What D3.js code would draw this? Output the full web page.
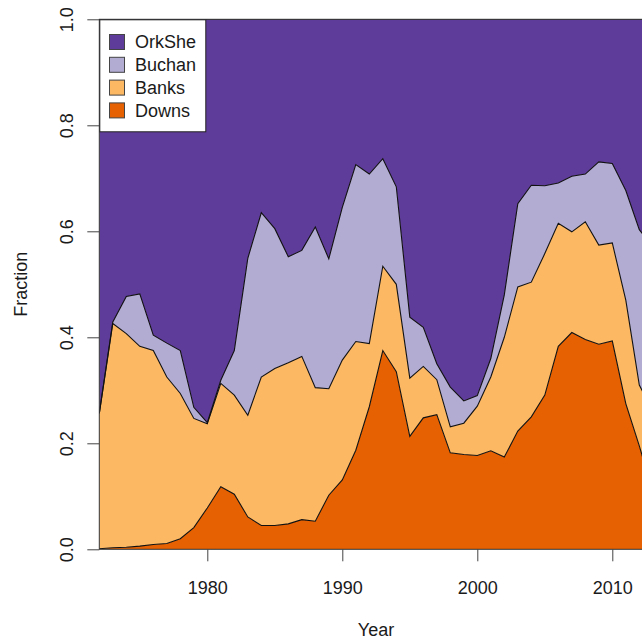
<!DOCTYPE html>
<html>
<head>
<meta charset="utf-8">
<script src="https://cdn.jsdelivr.net/npm/d3@7"></script>
<style>
  body { margin: 0; background: #fff; }
  svg { display: block; font-family: "Liberation Sans", Arial, Helvetica, sans-serif; }
</style>
</head>
<body>
<svg id="chart" width="642" height="640"></svg>
<script>
// Yearly catch composition (fraction of total) by area
const years = [1972, 1973, 1974, 1975, 1976, 1977, 1978, 1979, 1980, 1981,
               1982, 1983, 1984, 1985, 1986, 1987, 1988, 1989, 1990, 1991,
               1992, 1993, 1994, 1995, 1996, 1997, 1998, 1999, 2000, 2001,
               2002, 2003, 2004, 2005, 2006, 2007, 2008, 2009, 2010, 2011,
               2012, 2013];

const downs  = [0.001, 0.003, 0.004, 0.006, 0.009, 0.011, 0.020, 0.041, 0.078, 0.118,
                0.104, 0.061, 0.045, 0.045, 0.048, 0.056, 0.053, 0.102, 0.131, 0.187,
                0.269, 0.375, 0.335, 0.213, 0.248, 0.254, 0.182, 0.179, 0.177, 0.186,
                0.174, 0.223, 0.250, 0.291, 0.383, 0.409, 0.396, 0.387, 0.393, 0.275,
                0.195, 0.110];

const banks  = [0.255, 0.423, 0.403, 0.377, 0.366, 0.314, 0.274, 0.206, 0.159, 0.195,
                0.187, 0.192, 0.280, 0.296, 0.304, 0.308, 0.252, 0.201, 0.226, 0.205,
                0.119, 0.159, 0.165, 0.110, 0.097, 0.066, 0.049, 0.059, 0.093, 0.139,
                0.226, 0.272, 0.254, 0.267, 0.232, 0.190, 0.222, 0.187, 0.185, 0.195,
                0.115, 0.150];

const buchan = [0.001, 0.003, 0.070, 0.099, 0.029, 0.064, 0.081, 0.021, 0.002, 0.006,
                0.084, 0.296, 0.310, 0.264, 0.200, 0.200, 0.303, 0.245, 0.288, 0.334,
                0.320, 0.203, 0.184, 0.115, 0.074, 0.030, 0.075, 0.042, 0.020, 0.035,
                0.080, 0.157, 0.183, 0.128, 0.076, 0.105, 0.090, 0.157, 0.150, 0.207,
                0.293, 0.310];

const orkshe = [0.743, 0.571, 0.523, 0.518, 0.596, 0.611, 0.625, 0.732, 0.761, 0.681,
                0.625, 0.451, 0.365, 0.395, 0.448, 0.436, 0.392, 0.452, 0.355, 0.274,
                0.292, 0.263, 0.316, 0.562, 0.581, 0.650, 0.694, 0.720, 0.710, 0.640,
                0.520, 0.348, 0.313, 0.314, 0.309, 0.296, 0.292, 0.269, 0.272, 0.323,
                0.397, 0.430];

// Stack order: bottom to top
const seriesNames  = ["Downs", "Banks", "Buchan", "OrkShe"];
const seriesColors = ["#E66101", "#FDB863", "#B2ABD2", "#5E3C99"];
const legendNames  = ["OrkShe", "Buchan", "Banks", "Downs"];

const xTickValues = [1980, 1990, 2000, 2010];
const yTickValues = [0, 0.2, 0.4, 0.6, 0.8, 1.0];
const yTickLabels = ["0.0", "0.2", "0.4", "0.6", "0.8", "1.0"];

const xTitle = "Year";
const yTitle = "Fraction";

// ---- layout ----
const plot = { left: 99.3, top: 19.3, right: 652.8, bottom: 549.3 };
const fontSize = 18;
const textColor = "#1a1a1a";

const svg = d3.select("#chart");

const x = d3.scaleLinear()
  .domain([years[0], years[years.length - 1]])
  .range([plot.left, plot.right]);

const y = d3.scaleLinear()
  .domain([0, 1])
  .range([plot.bottom, plot.top]);

const color = d3.scaleOrdinal().domain(seriesNames).range(seriesColors);

const columns = { Downs: downs, Banks: banks, Buchan: buchan, OrkShe: orkshe };
const table = years.map((yr, i) => {
  const row = { year: yr };
  seriesNames.forEach(k => { row[k] = columns[k][i]; });
  return row;
});

const stacked = d3.stack().keys(seriesNames)(table);

svg.append("defs").append("clipPath").attr("id", "plot-clip")
  .append("rect")
  .attr("x", plot.left).attr("y", plot.top)
  .attr("width", plot.right - plot.left)
  .attr("height", plot.bottom - plot.top);

const area = d3.area()
  .x(d => x(d.data.year))
  .y0(d => y(d[0]))
  .y1(d => y(d[1]));

const topLine = d3.line()
  .x(d => x(d.data.year))
  .y(d => y(d[1]));

const layers = svg.append("g").attr("clip-path", "url(#plot-clip)");

layers.selectAll("path.layer")
  .data(stacked)
  .join("path")
  .attr("class", "layer")
  .attr("d", area)
  .attr("fill", d => color(d.key))
  .attr("stroke", "none");

layers.selectAll("path.edge")
  .data(stacked)
  .join("path")
  .attr("class", "edge")
  .attr("d", topLine)
  .attr("fill", "none")
  .attr("stroke", "#111")
  .attr("stroke-width", 1.1)
  .attr("stroke-linejoin", "miter");

// ---- plot frame ----
svg.append("rect")
  .attr("x", plot.left).attr("y", plot.top)
  .attr("width", plot.right - plot.left)
  .attr("height", plot.bottom - plot.top)
  .attr("fill", "none")
  .attr("stroke", "#333")
  .attr("stroke-width", 1);

// ---- axes ----
const xAxis = svg.append("g")
  .attr("transform", `translate(0,${plot.bottom})`)
  .call(d3.axisBottom(x).tickValues(xTickValues).tickFormat(d3.format("d"))
        .tickSize(12).tickPadding(12));
xAxis.select(".domain").remove();
xAxis.selectAll(".tick line").attr("stroke", "#444");
xAxis.selectAll(".tick text")
  .attr("font-size", fontSize)
  .attr("font-family", null)
  .attr("fill", textColor)
  .attr("dy", null)
  .attr("y", 45);

const yAxis = svg.append("g")
  .attr("transform", `translate(${plot.left},0)`)
  .call(d3.axisLeft(y).tickValues(yTickValues)
        .tickFormat((d, i) => yTickLabels[i]).tickSize(12));
yAxis.select(".domain").remove();
yAxis.selectAll(".tick line").attr("stroke", "#444");
yAxis.selectAll(".tick text")
  .attr("font-size", fontSize)
  .attr("font-family", null)
  .attr("fill", textColor)
  .attr("text-anchor", "middle")
  .attr("x", 0)
  .attr("y", 0)
  .attr("dy", "0.35em")
  .attr("transform", "translate(-33,0) rotate(-90)");

// ---- axis titles ----
svg.append("text")
  .attr("x", (plot.left + plot.right) / 2)
  .attr("y", 636)
  .attr("text-anchor", "middle")
  .attr("font-size", fontSize)
  .attr("fill", textColor)
  .text(xTitle);

svg.append("text")
  .attr("transform", `translate(21,${(plot.top + plot.bottom) / 2}) rotate(-90)`)
  .attr("text-anchor", "middle")
  .attr("dy", "0.35em")
  .attr("font-size", fontSize)
  .attr("fill", textColor)
  .text(yTitle);

// ---- legend ----
const legend = svg.append("g");
legend.append("rect")
  .attr("x", plot.left + 0.5).attr("y", plot.top + 0.5)
  .attr("width", 106).attr("height", 112)
  .attr("fill", "#fff")
  .attr("stroke", "#222")
  .attr("stroke-width", 1);

const rowGap = 22.8;
const firstRow = 42;
legendNames.forEach((name, i) => {
  const cy = firstRow + i * rowGap;
  legend.append("rect")
    .attr("x", 109.5).attr("y", cy - 7.5)
    .attr("width", 15).attr("height", 15)
    .attr("fill", color(name))
    .attr("stroke", "#444")
    .attr("stroke-width", 1);
  legend.append("text")
    .attr("x", 135).attr("y", cy)
    .attr("dy", "0.35em")
    .attr("font-size", fontSize)
    .attr("fill", textColor)
    .text(name);
});
</script>
</body>
</html>
